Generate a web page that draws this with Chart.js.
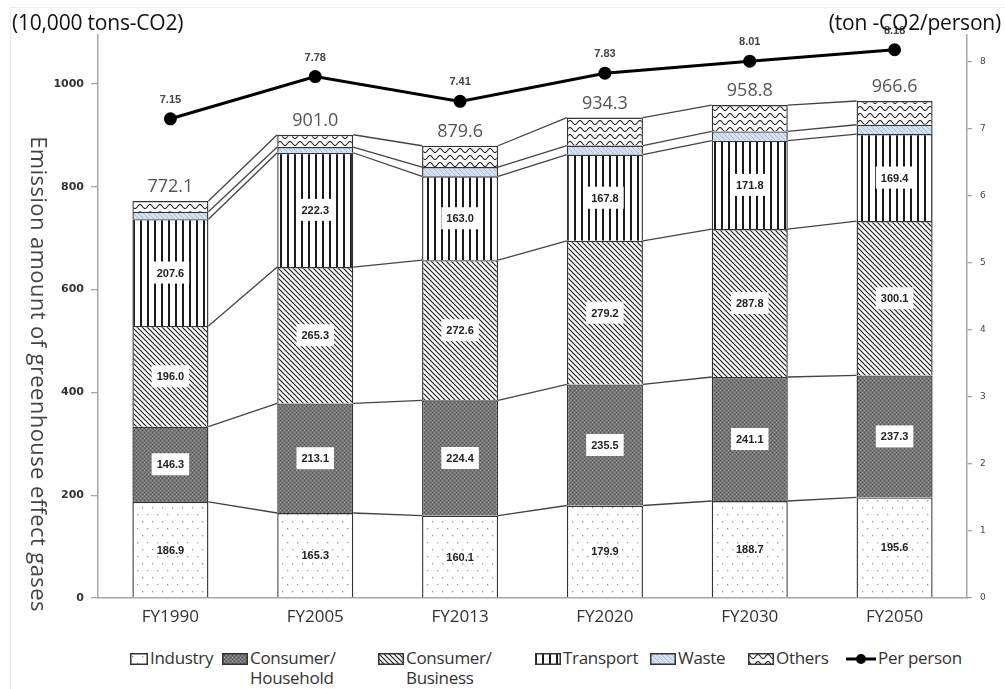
<!DOCTYPE html>
<html><head><meta charset="utf-8">
<script src="https://cdn.jsdelivr.net/npm/chart.js@4.4.1/dist/chart.umd.min.js"></script>
<style>
html,body{margin:0;padding:0;background:#fff;}
#wrap{position:relative;width:1005px;height:689px;overflow:hidden;font-family:"Open Sans",sans-serif;color:#222;}
#frame{position:absolute;left:10px;top:7px;right:-2px;bottom:-2px;border-top:1px solid #ececec;border-left:1px solid #ececec;}
#c{position:absolute;left:0;top:0;}
.ttl{position:absolute;top:8px;font-size:21px;color:#111;white-space:nowrap;letter-spacing:-0.2px;line-height:28px;}
.lg{position:absolute;top:648px;display:flex;align-items:flex-start;font-size:17px;color:#333;line-height:20px;white-space:nowrap;letter-spacing:-0.3px;}
.lg canvas{margin-top:5px;margin-right:2px;flex:none;}
</style></head><body>
<div id="wrap">
<div id="frame"></div>
<canvas id="c" width="1005" height="640"></canvas>
<div class="ttl" style="left:12px;">(10,000 tons-CO2)</div>
<div class="ttl" style="right:4px;">(ton -CO2/person)</div>
<div id="legend"></div>
</div>
<script>
const categories = ['FY1990','FY2005','FY2013','FY2020','FY2030','FY2050'];
const industry  = [186.9,165.3,160.1,179.9,188.7,195.6];
const household = [146.3,213.1,224.4,235.5,241.1,237.3];
const business  = [196.0,265.3,272.6,279.2,287.8,300.1];
const transport = [207.6,222.3,163.0,167.8,171.8,169.4];
const waste     = [14.5,11.0,18.0,17.5,18.0,18.0];
const others    = [20.8,24.0,41.5,54.4,51.4,46.2];
const totals    = [772.1,901.0,879.6,934.3,958.8,966.6];
const perPerson = [7.15,7.78,7.41,7.83,8.01,8.18];
const leftTicks  = [0,200,400,600,800,1000];
const rightTicks = [0,1,2,3,4,5,6,7,8];
const seriesNames = ['Industry','Consumer/\nHousehold','Consumer/\nBusiness','Transport','Waste','Others'];
const lineName = 'Per person';

const canvas = document.getElementById('c');
const ctx0 = canvas.getContext('2d');
function mk(w,h,draw){const c=document.createElement('canvas');c.width=w;c.height=h;draw(c.getContext('2d'),w,h);return c;}
function diag(x,s,color,lw){
  x.strokeStyle=color;x.lineWidth=lw;x.beginPath();
  x.moveTo(-1,-1);x.lineTo(s+1,s+1);
  x.moveTo(s-1,-1);x.lineTo(s+1,1);
  x.moveTo(-1,s-1);x.lineTo(1,s+1);
  x.stroke();
}
const tiles = [
  mk(10,14,(x,w,h)=>{x.fillStyle='#fff';x.fillRect(0,0,w,h);x.fillStyle='#8c9bb0';x.fillRect(2,3,1.3,1.3);x.fillRect(7,10,1.3,1.3);}),
  mk(4,4,(x)=>{x.fillStyle='#767676';x.fillRect(0,0,4,4);x.fillStyle='#555';x.fillRect(0,0,1,1);x.fillRect(2,2,1,1);x.fillStyle='#9a9a9a';x.fillRect(2,0,1,1);x.fillRect(0,2,1,1);}),
  mk(5,5,(x,w,h)=>{x.fillStyle='#fff';x.fillRect(0,0,w,h);diag(x,5,'#222',1.2);}),
  mk(7,4,(x,w,h)=>{x.fillStyle='#fff';x.fillRect(0,0,w,h);x.fillStyle='#1a1a1a';x.fillRect(0,0,2,h);}),
  mk(5,5,(x,w,h)=>{x.fillStyle='#d3e2f3';x.fillRect(0,0,w,h);diag(x,5,'#9fb8d8',0.9);}),
  mk(10,7,(x,w,h)=>{x.fillStyle='#fff';x.fillRect(0,0,w,h);x.strokeStyle='#222';x.lineWidth=1.1;x.beginPath();
     for(let i=0;i<=20;i++){const px=i*0.5;const py=3.5-2*Math.cos(px/10*2*Math.PI);if(i===0)x.moveTo(px,py);else x.lineTo(px,py);}x.stroke();})
];
const patterns = tiles.map(t=>ctx0.createPattern(t,'repeat'));
const barData = [industry,household,business,transport,waste,others];

const datasets = barData.map((d,k)=>({
  type:'bar', label:seriesNames[k], data:d, backgroundColor:patterns[k],
  borderColor:'#333', borderWidth:1.4, stack:'s', yAxisID:'y', order:2,
  categoryPercentage:1.0, barPercentage:0.525
}));
datasets.push({type:'line',label:lineName,data:perPerson,yAxisID:'y2',borderColor:'#000',borderWidth:3,
  pointRadius:5,pointBackgroundColor:'#000',pointBorderColor:'#000',order:0,tension:0});

const seriesLines = {id:'seriesLines', beforeDatasetsDraw(chart){
  const c=chart.ctx; c.save(); c.strokeStyle='#444'; c.lineWidth=1.3;
  for(let d=0; d<barData.length; d++){
    const m=chart.getDatasetMeta(d);
    for(let i=0;i<m.data.length-1;i++){
      const a=m.data[i], b=m.data[i+1];
      c.beginPath(); c.moveTo(a.x+a.width/2, a.y); c.lineTo(b.x-b.width/2, b.y); c.stroke();
    }
  }
  c.restore();
}};
const labelsPlugin = {id:'labelsPlugin', afterDatasetsDraw(chart){
  const c=chart.ctx; c.save();
  c.textAlign='center'; c.textBaseline='middle';
  c.font='bold 11px "Liberation Sans", Arial, sans-serif';
  for(let d=0; d<4; d++){
    const m=chart.getDatasetMeta(d);
    m.data.forEach((el,i)=>{
      const y=(el.y+el.base)/2; const t=barData[d][i].toFixed(1);
      const w=c.measureText(t).width+10;
      if(d>0){c.fillStyle='#fff'; c.fillRect(el.x-w/2, y-11, w, 22);}
      c.fillStyle='#222'; c.fillText(t, el.x, y+1);
    });
  }
  const top=chart.getDatasetMeta(barData.length-1);
  c.font='18px "Open Sans", sans-serif'; c.fillStyle='#555';
  top.data.forEach((el,i)=>{ c.fillText(totals[i].toFixed(1), el.x, el.y-14); });
  const lm=chart.getDatasetMeta(barData.length);
  c.font='bold 11px "Liberation Sans", Arial, sans-serif'; c.fillStyle='#444';
  lm.data.forEach((el,i)=>{ c.fillText(perPerson[i].toFixed(2), el.x, el.y-19); });
  c.translate(37, 374); c.rotate(Math.PI/2);
  c.font='22px "Open Sans", sans-serif'; c.fillStyle='#444';
  if ('letterSpacing' in c) c.letterSpacing='0.4px';
  c.fillText('Emission amount of greenhouse effect gases', 0, 0);
  c.restore();
}};

new Chart(canvas, {
  data:{labels:categories, datasets},
  plugins:[seriesLines, labelsPlugin],
  options:{
    responsive:false, animation:false,
    layout:{padding:{top:35,left:0,right:0,bottom:0}},
    plugins:{legend:{display:false}, tooltip:{enabled:false}},
    scales:{
      x:{stacked:true, grid:{display:false, drawTicks:false}, border:{display:true,color:'#a6a6a6',width:1.5},
         ticks:{font:{family:'"Open Sans", sans-serif', size:17}, color:'#333', padding:9},
         afterFit(s){s.height=42;}},
      y:{stacked:true, position:'left', min:0, max:1095,
         afterBuildTicks(s){s.ticks=leftTicks.map(v=>({value:v}));},
         grid:{drawOnChartArea:false, tickLength:7, color:'#a6a6a6', lineWidth:1.3},
         border:{display:true,color:'#a6a6a6',width:1.5},
         ticks:{font:{family:'"DejaVu Sans", sans-serif', size:11, weight:'bold'}, color:'#333', padding:7,
                callback:(v)=>String(v)},
         afterFit(s){s.width=98;}},
      y2:{position:'right', min:0, max:8.40,
         afterBuildTicks(s){s.ticks=rightTicks.map(v=>({value:v}));},
         grid:{drawOnChartArea:false, tickLength:5, color:'#a6a6a6', lineWidth:1.3},
         border:{display:true,color:'#a6a6a6',width:1.5},
         ticks:{font:{family:'"DejaVu Sans", sans-serif', size:9}, color:'#444', padding:8,
                callback:(v)=>String(v)},
         afterFit(s){s.width=38;}}
    }
  }
});

const legend=document.getElementById('legend');
const lefts=[130,222,378,535,650,748,846];
const swW=[18,26,26,26,26,26];
seriesNames.forEach((n,k)=>{
  const item=document.createElement('div'); item.className='lg'; item.style.left=lefts[k]+'px';
  const sw=document.createElement('canvas'); sw.width=swW[k]; sw.height=12;
  const sc=sw.getContext('2d'); sc.fillStyle=sc.createPattern(tiles[k],'repeat'); sc.fillRect(0,0,sw.width,12);
  sc.strokeStyle='#333'; sc.lineWidth=1.5; sc.strokeRect(0.75,0.75,sw.width-1.5,10.5);
  const tx=document.createElement('div'); tx.innerHTML=n.split('\n').join('<br>');
  item.appendChild(sw); item.appendChild(tx); legend.appendChild(item);
});
{
  const item=document.createElement('div'); item.className='lg'; item.style.left=lefts[6]+'px';
  const sw=document.createElement('canvas'); sw.width=30; sw.height=12;
  const sc=sw.getContext('2d'); sc.strokeStyle='#000'; sc.lineWidth=3; sc.beginPath(); sc.moveTo(0,6); sc.lineTo(30,6); sc.stroke();
  sc.fillStyle='#000'; sc.beginPath(); sc.arc(15,6,5,0,Math.PI*2); sc.fill();
  const tx=document.createElement('div'); tx.textContent=lineName;
  item.appendChild(sw); item.appendChild(tx); legend.appendChild(item);
}
</script>
</body></html>
